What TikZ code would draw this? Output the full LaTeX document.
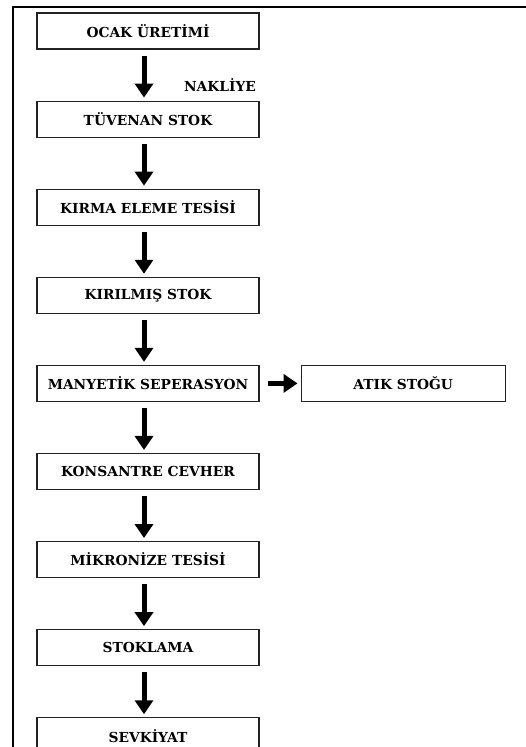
\documentclass[tikz,border=0pt]{standalone}
\usepackage{fontspec}
\newfontfamily\flowfont{DejaVu Serif}
\usepackage{tikz}
\usetikzlibrary{arrows.meta,positioning}
\usepackage{xcolor}
\definecolor{boxline}{HTML}{222222}

\begin{document}
\begin{tikzpicture}[
  x=1pt, y=1pt,
  stepbox/.style={draw=boxline, line width=1.1pt, minimum width=222pt, minimum height=36pt, inner sep=0pt, font=\flowfont\fontsize{13.8}{16}\selectfont\bfseries},
  flow/.style={line width=5pt, -{Triangle[width=18pt,length=14pt]}},
  node distance=51pt
]
  \useasboundingbox (0,0) rectangle (526,-747);
  % outer frame (only top and left show)
  \draw[line width=1.6pt] (13,-747) -- (13,-7) -- (526,-7);

  \node[stepbox] (ocak) at (148,-31) {OCAK ÜRETİMİ};
  \node[stepbox, below=of ocak] (tuvenan) {TÜVENAN STOK};
  \node[stepbox, below=of tuvenan] (kirma) {KIRMA ELEME TESİSİ};
  \node[stepbox, below=of kirma] (kirilmis) {KIRILMIŞ STOK};
  \node[stepbox, below=of kirilmis] (manyetik) {MANYETİK SEPERASYON};
  \node[stepbox, minimum width=204pt, right=41pt of manyetik] (atik) {ATIK STOĞU};
  \node[stepbox, below=of manyetik] (konsantre) {KONSANTRE CEVHER};
  \node[stepbox, below=of konsantre] (mikronize) {MİKRONİZE TESİSİ};
  \node[stepbox, below=of mikronize] (stoklama) {STOKLAMA};
  \node[stepbox, below=of stoklama] (sevkiyat) {SEVKİYAT};

  \node[font=\flowfont\fontsize{13.8}{16}\selectfont\bfseries] (nakliye) at (220,-85) {NAKLİYE};

  % downward flow
  \foreach \a/\b in {ocak/tuvenan, tuvenan/kirma, kirma/kirilmis, kirilmis/manyetik,
                     manyetik/konsantre, konsantre/mikronize, mikronize/stoklama, stoklama/sevkiyat}
    \draw[flow, shorten <=6pt, shorten >=3pt] ([xshift=-4pt]\a.south) -- ([xshift=-4pt]\b.north);

  \draw[flow, shorten <=8pt, shorten >=3pt] (manyetik.east) -- (atik.west);
\end{tikzpicture}
\end{document}
